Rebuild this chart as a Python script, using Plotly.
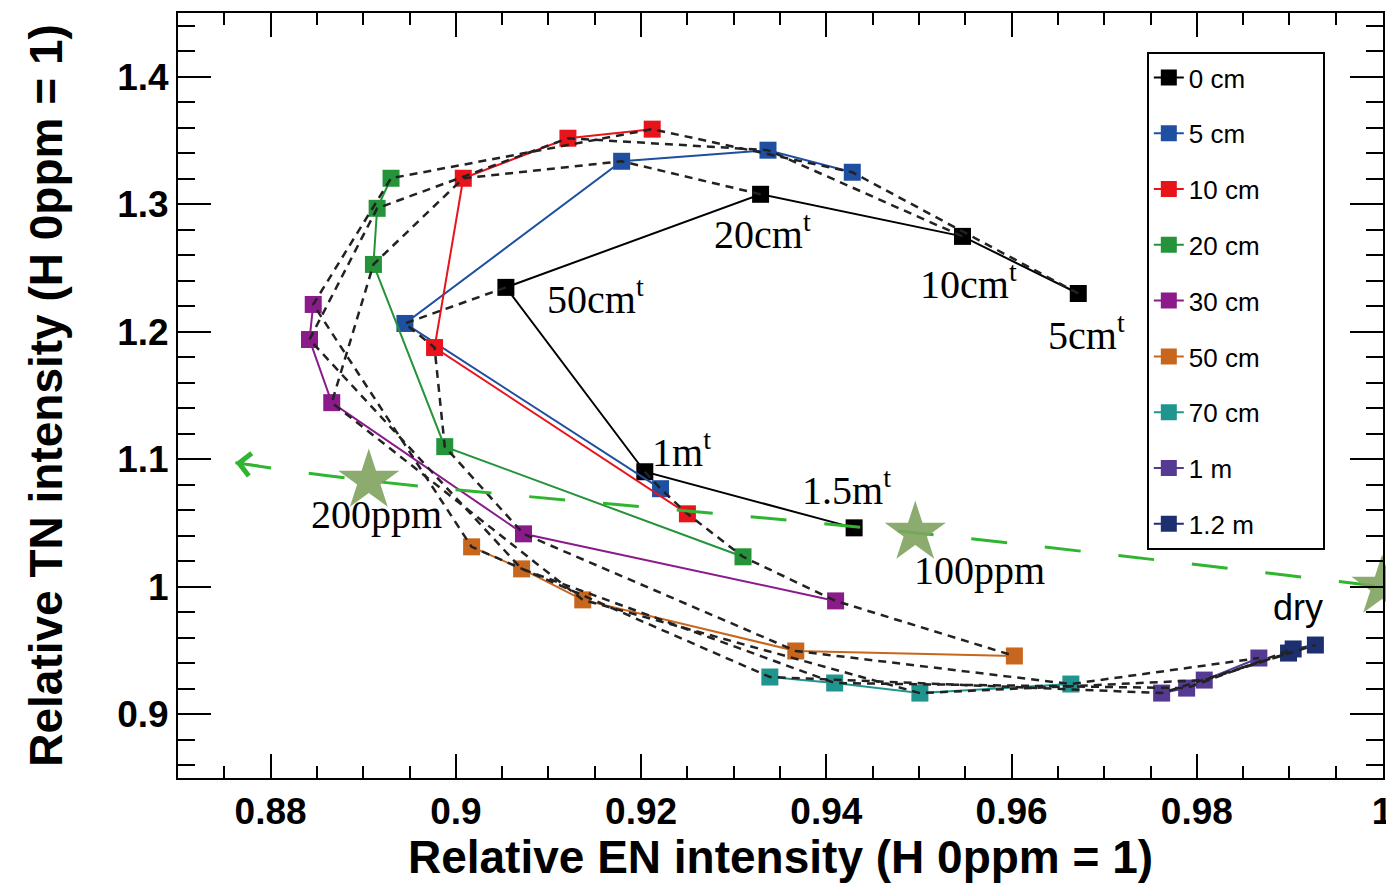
import plotly.graph_objects as go

# ---------------- data ----------------
depth_labels = ["0 cm", "5 cm", "10 cm", "20 cm", "30 cm", "50 cm", "70 cm", "1 m", "1.2 m"]

en_0cm = [0.9672, 0.9547, 0.9329, 0.9054, 0.9204, 0.9430]
tn_0cm = [1.2300, 1.2748, 1.3078, 1.2348, 1.0902, 1.0462]

en_5cm = [0.9428, 0.9337, 0.9179, 0.8945, 0.9221]
tn_5cm = [1.3251, 1.3424, 1.3337, 1.2065, 1.0769]

en_10cm = [0.9212, 0.9121, 0.9008, 0.8977, 0.9250]
tn_10cm = [1.3589, 1.3518, 1.3204, 1.1876, 1.0572]

en_20cm = [0.8930, 0.8915, 0.8911, 0.8988, 0.9310]
tn_20cm = [1.3204, 1.2968, 1.2528, 1.1099, 1.0235]

en_30cm = [0.8846, 0.8842, 0.8866, 0.9073, 0.9410]
tn_30cm = [1.2214, 1.1939, 1.1444, 1.0415, 0.9889]

en_50cm = [0.9017, 0.9071, 0.9137, 0.9367, 0.9603]
tn_50cm = [1.0313, 1.0140, 0.9897, 0.9496, 0.9457]

en_70cm = [0.9339, 0.9409, 0.9501, 0.9664]
tn_70cm = [0.9292, 0.9245, 0.9166, 0.9237]

en_1m = [0.9762, 0.9789, 0.9808, 0.9867]
tn_1m = [0.9166, 0.9205, 0.9268, 0.9441]

en_1p2m = [0.9899, 0.9904, 0.9928]
tn_1p2m = [0.9480, 0.9512, 0.9543]

series_en = [en_0cm, en_5cm, en_10cm, en_20cm, en_30cm, en_50cm, en_70cm, en_1m, en_1p2m]
series_tn = [tn_0cm, tn_5cm, tn_10cm, tn_20cm, tn_30cm, tn_50cm, tn_70cm, tn_1m, tn_1p2m]

# reference (H concentration) points
star_labels = ["200ppm", "100ppm", "dry"]
star_en = [0.8906, 0.9496, 1.0]
star_tn = [1.0832, 1.0423, 1.0]
arrow_tip_en = 0.8762
arrow_tip_tn = 1.0973

# labels of the 0 cm series (front positions) and where they are printed
front_labels = ["5cm<sup>t</sup>", "10cm<sup>t</sup>", "20cm<sup>t</sup>",
                "50cm<sup>t</sup>", "1m<sup>t</sup>", "1.5m<sup>t</sup>"]
front_label_en = [0.9681, 0.9553, 0.9331, 0.9151, 0.9244, 0.9422]
front_label_tn = [1.1994, 1.2395, 1.2788, 1.2277, 1.1075, 1.0777]
star_label_en = [0.8914, 0.9565, 0.9909]
star_label_tn = [1.0564, 1.0124, 0.9834]

# ---------------- styles ----------------
colors = ["#000000", "#1f4fa0", "#e8141c", "#24933a", "#8b1a8b",
          "#c8661e", "#20958f", "#553a94", "#1c2f6e"]
star_color = "rgb(128,163,95)"
guide_green = "#2fb52f"

fig = go.Figure()

# solid series
for name, xs, ys, col in zip(depth_labels, series_en, series_tn, colors):
    fig.add_trace(go.Scatter(
        x=xs, y=ys, mode="lines+markers", name=name + "\u00a0" * 8,
        legendgroup=name,
        line=dict(color=col, width=2),
        marker=dict(symbol="square", size=17, color=col),
    ))

# dashed lines joining the k-th point of every series
n_max = max(len(s) for s in series_en)
for k in range(n_max):
    xs = [s[k] for s in series_en if len(s) > k]
    ys = [s[k] for s in series_tn if len(s) > k]
    if len(xs) < 2:
        continue
    fig.add_trace(go.Scatter(
        x=xs, y=ys, mode="lines", showlegend=False, hoverinfo="skip",
        line=dict(color="#222222", width=2.5, dash="8px,6px"),
    ))

# green guide curve through the stars
fig.add_trace(go.Scatter(
    x=[arrow_tip_en] + star_en, y=[arrow_tip_tn] + star_tn,
    mode="lines", showlegend=False, hoverinfo="skip", line_shape="spline",
    line=dict(color=guide_green, width=3, dash="36px,38px"),
))

# stars
fig.add_trace(go.Scatter(
    x=star_en, y=star_tn, mode="markers", showlegend=False, cliponaxis=False,
    marker=dict(symbol="star", size=46, color=star_color, opacity=0.9),
))

annotations = []
# arrow head of guide curve
annotations.append(dict(
    x=arrow_tip_en, y=arrow_tip_tn, xref="x", yref="y",
    ax=arrow_tip_en + 0.0027, ay=arrow_tip_tn - 0.0025, axref="x", ayref="y",
    text="", showarrow=True, arrowhead=4, arrowsize=2.2, arrowwidth=2,
    arrowcolor=guide_green,
))
for t, x, y in zip(front_labels, front_label_en, front_label_tn):
    annotations.append(dict(
        x=x, y=y, xref="x", yref="y", text=t, showarrow=False,
        xanchor="center", yanchor="middle",
        font=dict(family="Liberation Serif", size=40, color="black"),
    ))
for i, (t, x, y) in enumerate(zip(star_labels, star_label_en, star_label_tn)):
    fam = "Liberation Sans" if t == "dry" else "Liberation Serif"
    sz = 36 if t == "dry" else 40
    annotations.append(dict(
        x=x, y=y, xref="x", yref="y", text=t, showarrow=False,
        xanchor="center", yanchor="middle",
        font=dict(family=fam, size=sz, color="black"),
    ))

tickfont = dict(family="Liberation Sans", size=37, color="black", weight="bold")
titlefont = dict(family="Liberation Sans", size=46, color="black", weight="bold")

fig.update_layout(
    width=1386, height=883,
    margin=dict(l=178, r=3, t=13, b=105),
    paper_bgcolor="white", plot_bgcolor="white",
    annotations=annotations,
    showlegend=True,
    legend=dict(
        x=0.804, y=0.949, xanchor="left", yanchor="top",
        bgcolor="white", bordercolor="black", borderwidth=2,
        font=dict(family="Liberation Sans", size=26, color="black"),
        tracegroupgap=19, itemwidth=30,
    ),
    xaxis=dict(
        range=[0.87, 1.0001], dtick=0.02, tick0=0.88,
        ticks="inside", ticklen=24, tickwidth=2, tickcolor="black",
        minor=dict(dtick=0.005, ticks="inside", ticklen=12, tickwidth=2, tickcolor="black"),
        showline=True, linecolor="black", linewidth=2, mirror="ticks",
        showgrid=False, zeroline=False,
        tickfont=tickfont, ticklabeloverflow="allow",
        title=dict(text="Relative EN intensity (H 0ppm = 1)", font=titlefont, standoff=10),
        automargin=False,
    ),
    yaxis=dict(
        range=[0.85, 1.45], dtick=0.1, tick0=0.9,
        ticks="inside", ticklen=33, tickwidth=2, tickcolor="black",
        minor=dict(dtick=0.02, ticks="inside", ticklen=17, tickwidth=2, tickcolor="black"),
        showline=True, linecolor="black", linewidth=2, mirror="ticks",
        showgrid=False, zeroline=False,
        tickfont=tickfont,
        title=dict(text="Relative TN intensity (H 0ppm = 1)", font=titlefont, standoff=40),
        automargin=False,
    ),
)

fig.write_html("out.html")
